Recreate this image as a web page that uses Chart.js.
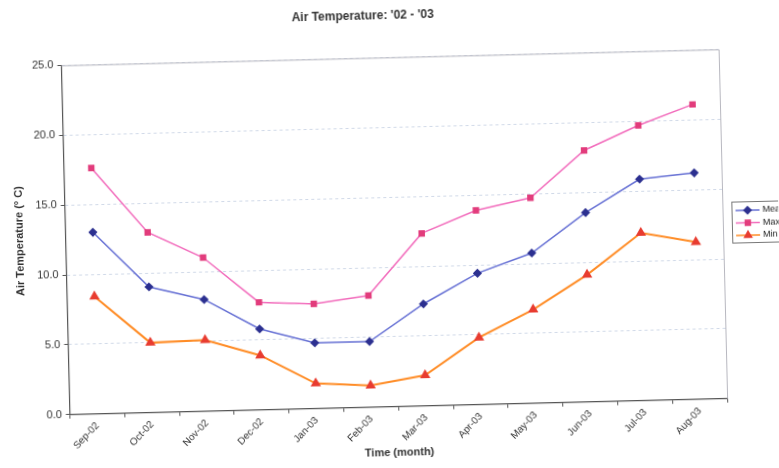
<!DOCTYPE html>
<html>
<head>
<meta charset="utf-8">
<script src="https://cdn.jsdelivr.net/npm/chart.js@4.4.1/dist/chart.umd.min.js"></script>
<style>
    html, body { margin: 0; padding: 0; background: #fff; }
    #wrap { width: 779px; height: 468px; overflow: hidden; }
    #airChart { transform: rotate(-1.4deg); }
</style>
</head>
<body>
<div id="wrap"><canvas id="airChart" width="779" height="468"></canvas></div>
<script>
// Data
const months = ['Sep-02', 'Oct-02', 'Nov-02', 'Dec-02', 'Jan-03', 'Feb-03',
    'Mar-03', 'Apr-03', 'May-03', 'Jun-03', 'Jul-03', 'Aug-03'];
const meanTemp = [13.0, 9.0, 8.0, 5.8, 4.7, 4.7, 7.3, 9.4, 10.75, 13.55, 15.85, 16.2];
const maxTemp = [17.6, 12.9, 11.0, 7.7, 7.5, 8.0, 12.35, 13.9, 14.7, 18.0, 19.7, 21.1];
const minTemp = [8.4, 5.0, 5.1, 3.9, 1.8, 1.55, 2.2, 4.8, 6.7, 9.1, 12.0, 11.25];
const yTicks = [0, 5, 10, 15, 20, 25];

const fontFamily = '"Liberation Sans", Arial, sans-serif';

// Light border round the plot area + Excel style legend box
const frameAndLegend = {
    id: 'frameAndLegend',
    afterDraw(chart) {
        const ctx = chart.ctx;
        const area = chart.chartArea;
        ctx.save();
        ctx.strokeStyle = '#b8b8c0';
        ctx.lineWidth = 1;
        ctx.beginPath();
        ctx.moveTo(area.left, area.top + 0.5);
        ctx.lineTo(area.right + 0.5, area.top + 0.5);
        ctx.lineTo(area.right + 0.5, area.bottom);
        ctx.stroke();

        // legend
        const lx = area.right + 9;
        const ly = 210;
        ctx.strokeStyle = '#777';
        ctx.strokeRect(lx + 0.5, ly + 0.5, 60, 41);
        ctx.font = '9px ' + fontFamily;
        ctx.textBaseline = 'middle';
        chart.data.datasets.forEach((ds, i) => {
            const y = ly + 9 + i * 12.5;
            ctx.strokeStyle = ds.borderColor;
            ctx.lineWidth = 1.5;
            ctx.beginPath();
            ctx.moveTo(lx + 4, y);
            ctx.lineTo(lx + 28, y);
            ctx.stroke();
            ctx.fillStyle = ds.pointBackgroundColor;
            ctx.strokeStyle = ds.pointBorderColor;
            Chart.helpers.drawPoint(ctx, {
                pointStyle: ds.pointStyle,
                radius: ds.pointRadius,
                borderWidth: 1,
                rotation: 0
            }, lx + 16, y);
            ctx.fillStyle = '#222';
            ctx.fillText(ds.label, lx + 31, y);
        });
        ctx.restore();
    }
};

const airChart = new Chart(document.getElementById('airChart'), {
    type: 'line',
    data: {
        labels: months,
        datasets: [{
            label: 'Mean',
            data: meanTemp,
            borderColor: '#6670d4',
            borderWidth: 1.5,
            pointStyle: 'rectRot',
            pointRadius: 3.5,
            pointBackgroundColor: '#2c3090',
            pointBorderColor: '#2c3090'
        }, {
            label: 'Max',
            data: maxTemp,
            borderColor: '#f26cbc',
            borderWidth: 1.5,
            pointStyle: 'rect',
            pointRadius: 3.5,
            pointBackgroundColor: '#e23c7c',
            pointBorderColor: '#e23c7c'
        }, {
            label: 'Min',
            data: minTemp,
            borderColor: '#ff8c26',
            borderWidth: 2,
            pointStyle: 'triangle',
            pointRadius: 4,
            pointBackgroundColor: '#e83c30',
            pointBorderColor: '#e83c30'
        }]
    },
    options: {
        responsive: false,
        animation: false,
        layout: {
            padding: { left: 13, right: 56, top: 4, bottom: 8 }
        },
        scales: {
            x: {
                offset: true,
                grid: {
                    display: true,
                    offset: true,
                    drawOnChartArea: false,
                    drawTicks: true,
                    tickLength: 4,
                    color: '#555'
                },
                border: { color: '#555', width: 1.2 },
                ticks: {
                    maxRotation: 45,
                    minRotation: 45,
                    color: '#333',
                    padding: 2,
                    font: { family: fontFamily, size: 10 }
                },
                title: {
                    display: true,
                    text: 'Time (month)',
                    color: '#333',
                    padding: { top: 0, bottom: 0 },
                    font: { family: fontFamily, size: 11, weight: 'bold' }
                }
            },
            y: {
                min: 0,
                max: 25,
                afterBuildTicks(axis) {
                    axis.ticks = yTicks.map(v => ({ value: v }));
                },
                grid: {
                    color: 'rgba(150, 170, 205, 0.45)',
                    tickLength: 4,
                    tickColor: '#555'
                },
                border: { color: '#555', width: 1.2, dash: [3, 3] },
                ticks: {
                    color: '#333',
                    padding: 4,
                    font: { family: fontFamily, size: 11 },
                    callback: v => v.toFixed(1)
                },
                title: {
                    display: true,
                    text: 'Air Temperature (° C)',
                    color: '#333',
                    padding: { top: 0, bottom: 6 },
                    font: { family: fontFamily, size: 11, weight: 'bold' }
                }
            }
        },
        plugins: {
            legend: { display: false },
            tooltip: { enabled: false },
            title: {
                display: true,
                text: "Air Temperature: '02 - '03",
                color: '#333',
                padding: { top: 4, bottom: 35 },
                font: { family: fontFamily, size: 12, weight: 'bold' }
            }
        }
    },
    plugins: [frameAndLegend]
});
</script>
</body>
</html>
